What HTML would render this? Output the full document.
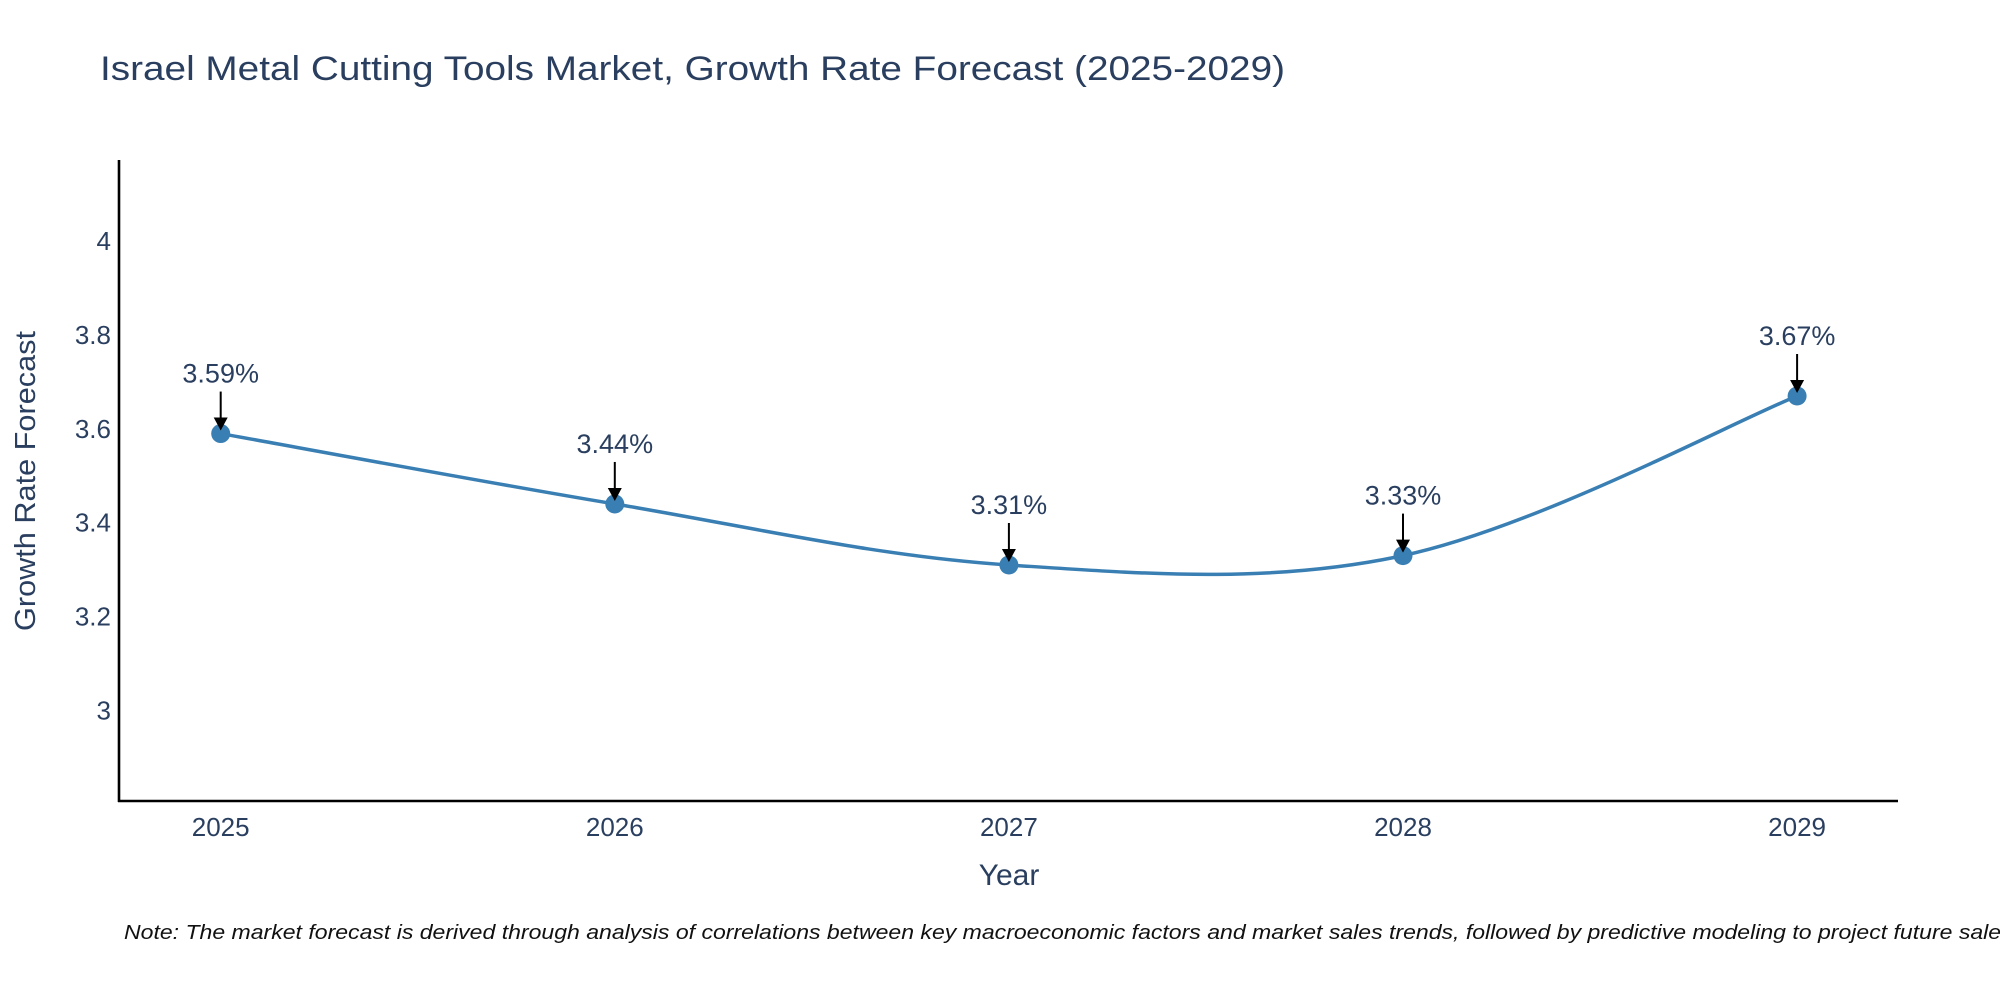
<!DOCTYPE html>
<html><head><meta charset="utf-8"><style>
html,body{margin:0;padding:0;background:#fff;overflow:hidden;}
svg{display:block;font-family:"Liberation Sans",Arial,sans-serif;}
</style></head><body>
<svg id="chart" width="2000" height="1000" viewBox="0 0 2000 1000">
<text x="100" y="80" font-size="34" fill="#2a3f5f" textLength="1185" lengthAdjust="spacingAndGlyphs">Israel Metal Cutting Tools Market, Growth Rate Forecast (2025-2029)</text>
<g id="yticks"></g>
<g id="xticks"></g>
<path id="line" fill="none" stroke="#3a7fb3" stroke-width="3.5"/>
<g id="marks"></g>
<g id="annots"></g>
<line x1="119" y1="160" x2="119" y2="802" stroke="#000" stroke-width="2.6"/>
<line x1="118" y1="801" x2="1898" y2="801" stroke="#000" stroke-width="2.6"/>
<text x="1009" y="885" font-size="30" fill="#2a3f5f" text-anchor="middle">Year</text>
<text transform="translate(35,481) rotate(-90)" x="0" y="0" font-size="29" fill="#2a3f5f" text-anchor="middle" textLength="300" lengthAdjust="spacingAndGlyphs">Growth Rate Forecast</text>
<text x="124" y="939" font-size="20" font-style="italic" fill="#111" textLength="1895" lengthAdjust="spacingAndGlyphs">Note: The market forecast is derived through analysis of correlations between key macroeconomic factors and market sales trends, followed by predictive modeling to project future sales.</text>
</svg>
<script>
const years = [2025, 2026, 2027, 2028, 2029];
const growth = [3.59, 3.44, 3.31, 3.33, 3.67];
const labels = ["3.59%", "3.44%", "3.31%", "3.33%", "3.67%"];
const yTicks = [3, 3.2, 3.4, 3.6, 3.8, 4];
const yTickLabels = ["3", "3.2", "3.4", "3.6", "3.8", "4"];

const NS = "http://www.w3.org/2000/svg";
function xs(v){ return 220.7 + (v - 2025) * 394.1; }
function ys(v){ return 710.5 - (v - 3) * 469.4; }
function mk(tag, attrs, parent){
  const e = document.createElementNS(NS, tag);
  for (const k in attrs) e.setAttribute(k, attrs[k]);
  parent.appendChild(e); return e;
}
const yt = document.getElementById('yticks');
yTicks.forEach((t, i) => {
  const e = mk('text', {x: 111, y: ys(t) + 9, 'font-size': 26, fill: '#2a3f5f', 'text-anchor': 'end'}, yt);
  
  
  e.textContent = yTickLabels[i];
});
const xt = document.getElementById('xticks');
years.forEach(y => {
  const e = mk('text', {x: xs(y), y: 836, 'font-size': 26, fill: '#2a3f5f', 'text-anchor': 'middle'}, xt);
  
  
  e.textContent = String(y);
});
const P = years.map((y, i) => [xs(y), ys(growth[i])]);
let d = `M${P[0][0]},${P[0][1]}`;
const tension = 0.17;
for (let i = 0; i < P.length - 1; i++) {
  const p0 = P[i - 1] || P[i], p1 = P[i], p2 = P[i + 1], p3 = P[i + 2] || P[i + 1];
  const c1 = [p1[0] + (p2[0] - p0[0]) * tension, p1[1] + (p2[1] - p0[1]) * tension];
  const c2 = [p2[0] - (p3[0] - p1[0]) * tension, p2[1] - (p3[1] - p1[1]) * tension];
  d += ` C${c1[0]},${c1[1]} ${c2[0]},${c2[1]} ${p2[0]},${p2[1]}`;
}
document.getElementById('line').setAttribute('d', d);
const mg = document.getElementById('marks');
const ag = document.getElementById('annots');
P.forEach((p, i) => {
  const c = mk('circle', {cx: p[0], cy: p[1], r: 9.5, fill: '#3a7fb3'}, mg);
  
  
  const l = mk('line', {x1: p[0], y1: p[1] - 42, x2: p[0], y2: p[1] - 14, stroke: '#000', 'stroke-width': 2}, ag);
  
  
  const h = mk('polygon', {points: `${p[0]-7},${p[1]-16} ${p[0]+7},${p[1]-16} ${p[0]},${p[1]-3}`, fill: '#000'}, ag);
  
  
  const t = mk('text', {x: p[0], y: p[1] - 51, 'font-size': 27, fill: '#2a3f5f', 'text-anchor': 'middle'}, ag);
  
  
  t.textContent = labels[i];
});
</script>
</body></html>
